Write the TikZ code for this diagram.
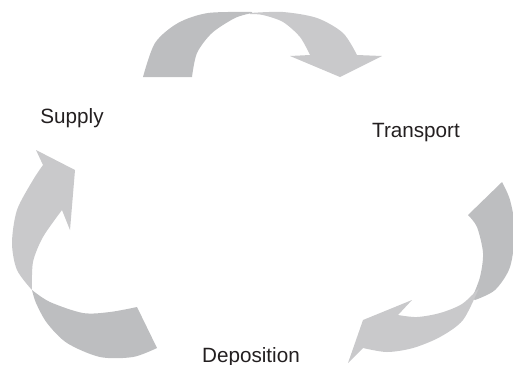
\documentclass[tikz,border=0pt]{standalone}
\usepackage{fontspec}
\setmainfont{Liberation Sans}
\definecolor{TailGray}{HTML}{BDBEC0}
\definecolor{HeadGray}{HTML}{C9C9CB}
\definecolor{TextGray}{HTML}{231F20}

\begin{document}
\begin{tikzpicture}[
      x=0.6pt, y=-0.6pt,
      tail/.style={fill=TailGray},
      head/.style={fill=HeadGray},
      stage/.style={anchor=base,text=TextGray,inner sep=0pt,font=\fontsize{12.4}{15}\selectfont}
    ]
    \useasboundingbox (0,0) rectangle (513,364);
    % top arrow: Supply -> Transport
    \fill[tail] plot[smooth] coordinates {(143,77) (155,43) (178,23) (208,13) (252,12)}
      -- plot[smooth] coordinates {(252,13) (235,18) (212,33) (197,53) (192,77)} -- cycle;
    \fill[head] plot[smooth] coordinates {(250,13) (283,12) (317,18) (343,33) (357,55)}
      -- (382,56) -- (340,77) -- (290,56)
      -- plot[smooth] coordinates {(310,55) (300,37) (283,22) (263,15) (250,14)} -- cycle;
    % right arrow: Transport -> Deposition
    \fill[tail] plot[smooth] coordinates {(502,182) (510,200) (515,230) (510,267) (495,290) (475,300)}
      -- plot[smooth] coordinates {(472,298) (480,277) (483,253) (477,227) (468,215)} -- cycle;
    \fill[head] plot[smooth] coordinates {(479,288) (463,320) (440,337) (413,348) (387,352) (363,348)}
      -- (348,363) -- (363,320) -- (412,300)
      -- plot[smooth] coordinates {(398,315) (417,317) (440,313) (462,304) (479,288)} -- cycle;
    % left arrow: Deposition -> Supply
    \fill[tail] plot[smooth] coordinates {(157,348) (133,357) (100,357) (67,343) (47,323) (36,303) (32,290)}
      -- plot[smooth] coordinates {(32,290) (50,302) (83,313) (110,312) (137,307)} -- cycle;
    \fill[head] plot[smooth] coordinates {(32,290) (17,270) (12,243) (17,210) (33,180) (43,165)}
      -- (36,150) -- (75,170) -- (70,230)
      -- plot[smooth] coordinates {(62,210) (43,237) (33,262) (32,290)} -- cycle;
    % stages
    \node[stage] (supply) at (72,123) {Supply};
    \node[stage] (transport) at (416,137) {Transport};
    \node[stage] (deposition) at (251,362) {Deposition};
  \end{tikzpicture}
\end{document}
